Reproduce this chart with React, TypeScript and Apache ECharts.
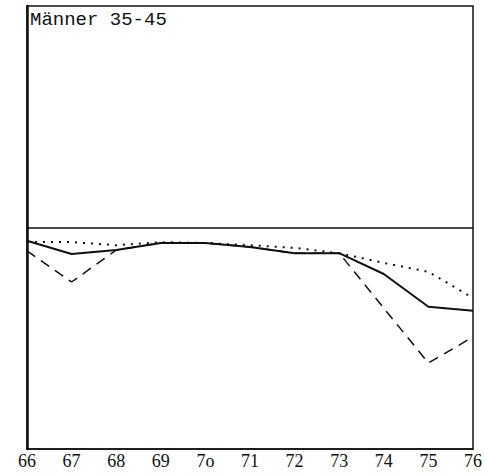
import React, { useEffect, useRef } from "react";
import * as echarts from "echarts";

const years = ["66", "67", "68", "69", "7o", "71", "72", "73", "74", "75", "76"];
const solidSeries = [47.0, 44.0, 44.9, 46.5, 46.5, 45.6, 44.2, 44.2, 39.5, 32.1, 31.2];
const dashedSeries = [44.7, 37.7, 44.9, 46.5, 46.5, 45.6, 44.2, 44.2, 31.8, 19.4, 25.3];
const dottedSeries = [46.7, 46.7, 46.0, 46.7, 46.5, 46.0, 45.4, 44.2, 42.0, 40.0, 34.1];
const referenceLevel = 50;
const title = "Männer 35-45";

export default function App() {
  const ref = useRef<HTMLDivElement>(null);
  useEffect(() => {
    const chart = echarts.init(ref.current!, null, { renderer: "svg" });
    chart.setOption({
      animation: false,
      backgroundColor: "#fff",
      title: {
        text: title,
        left: 25,
        top: 5,
        textStyle: {
          fontFamily: "Liberation Mono, monospace",
          fontSize: 19,
          fontWeight: "normal",
          color: "#111",
        },
      },
      grid: {
        left: 27,
        right: 5,
        top: 6,
        bottom: 26,
        show: true,
        borderColor: "#111",
        borderWidth: 1.5,
        backgroundColor: "transparent",
      },
      xAxis: {
        type: "category",
        data: years,
        boundaryGap: false,
        axisLine: { show: true, lineStyle: { color: "#111", width: 1.5 } },
        axisTick: { show: false },
        splitLine: { show: false },
        axisLabel: {
          margin: 3,
          color: "#111",
          fontFamily: "Liberation Serif, serif",
          fontSize: 18,
          showMinLabel: true,
          showMaxLabel: true,
          interval: 0,
        },
      },
      yAxis: {
        type: "value",
        min: 0,
        max: 100,
        axisLine: { show: true, lineStyle: { color: "#111", width: 2.5 } },
        axisTick: { show: false },
        axisLabel: { show: false },
        splitLine: { show: false },
      },
      series: [
        {
          type: "line",
          data: solidSeries,
          symbol: "none",
          lineStyle: { color: "#111", width: 2, type: "solid" },
          markLine: {
            silent: true,
            symbol: "none",
            label: { show: false },
            lineStyle: { color: "#111", width: 1.5, type: "solid" },
            data: [{ yAxis: referenceLevel }],
          },
        },
        {
          type: "line",
          data: dashedSeries,
          symbol: "none",
          lineStyle: { color: "#111", width: 1.5, type: [10, 7] },
        },
        {
          type: "line",
          data: dottedSeries,
          symbol: "none",
          lineStyle: { color: "#111", width: 2, type: [2, 6] },
        },
      ],
    });
    return () => chart.dispose();
  }, []);
  return (
    <div
      ref={ref}
      style={{ position: "fixed", left: 0, top: 0, width: 485, height: 475 }}
    />
  );
}
